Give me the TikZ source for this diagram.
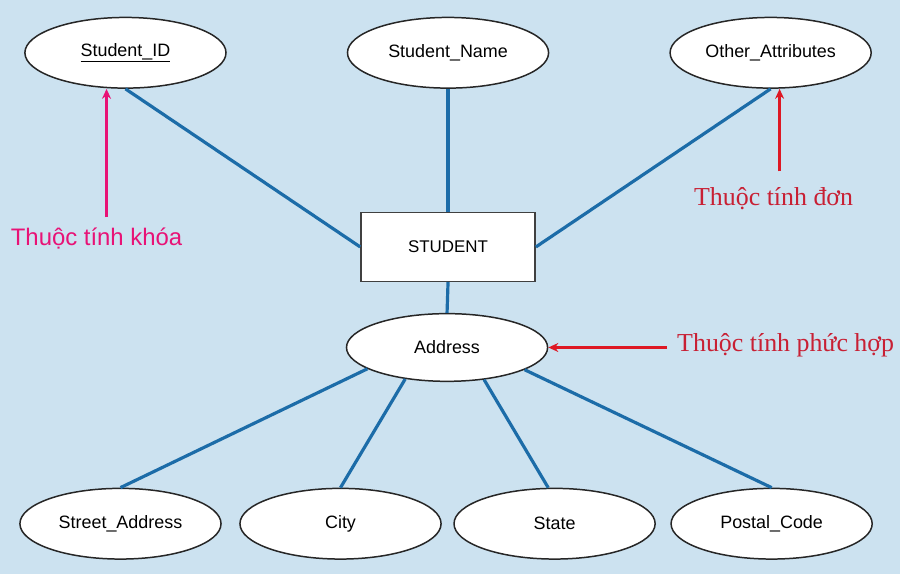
\documentclass[tikz,border=0pt]{standalone}
\usepackage{fontspec}
\setmainfont{Liberation Sans}
\newfontfamily\notefont{Liberation Serif}
\usepackage{tikz}
\usetikzlibrary{shapes.geometric, arrows.meta, positioning, calc}
\definecolor{SkyBack}{RGB}{204,226,240}
\definecolor{LinkBlue}{RGB}{28,108,168}
\definecolor{KeyPink}{RGB}{232,18,118}
\definecolor{NoteRed}{RGB}{222,24,36}
\definecolor{NoteText}{RGB}{200,32,52}
\tikzset{
  attrbox/.style={ellipse,draw=black!85,fill=white,line width=1.5pt,
    minimum width=202pt,minimum height=71pt,inner sep=0pt,
    font=\fontsize{18}{20}\selectfont},
  entbox/.style={rectangle,draw=black!75,fill=white,line width=1.5pt,
    minimum width=175pt,minimum height=69pt,font=\fontsize{17}{20}\selectfont},
  link/.style={line width=3.2pt,color=LinkBlue},
  keyarrow/.style={-{Stealth[length=10pt,width=9pt]},line width=2.8pt,color=KeyPink},
  notearrow/.style={-{Stealth[length=10pt,width=9pt]},line width=2.8pt,color=NoteRed},
  keynote/.style={text=KeyPink,inner sep=2pt,font=\fontsize{24}{26}\selectfont},
  rednote/.style={text=NoteText,inner sep=2pt,font=\notefont\fontsize{26}{28}\selectfont}
}

\begin{document}
\begin{tikzpicture}[x=1pt,y=-1pt]
  \fill[SkyBack] (0,0) rectangle (904,576);
  % entity and its attributes
  \node[entbox] (stu) at (450,248) {STUDENT};
  \node[attrbox] (sid) at (126,53) {\underline{Student\_ID}};
  \node[attrbox] (sname) at (450,53) {Student\_Name};
  \node[attrbox] (oattr) at (774,53) {Other\_Attributes};
  \node[attrbox,minimum height=68pt] (addr) at (449,349) {Address};
  \node[attrbox] (street) at (121,526) {Street\_Address};
  \node[attrbox] (city) at (342,526) {City};
  \node[attrbox] (state) at (557,526) {State};
  \node[attrbox] (postal) at (775,526) {Postal\_Code};
  \draw[link] (sid.south) -- (stu.west);
  \draw[link] (sname.south) -- (stu.north);
  \draw[link] (oattr.south) -- (stu.east);
  \draw[link] (stu.south) -- (addr.north);
  \foreach \a/\b in {195/street.north,217/city.north,319/state.100,344/postal.north}
    \draw[link] (addr.\a) -- (\b);
  % notes
  \node[keynote] (knote) at (97,240) {Thuộc tính khóa};
  \node[rednote] (snote) at (777,200) {Thuộc tính đơn};
  \node[rednote,anchor=base west,inner xsep=10pt] (cnote) at (670,353) {Thuộc tính phức hợp};
  \coordinate (kfoot) at (107,218);
  \coordinate (sfoot) at (783,172);
  \draw[keyarrow] (kfoot) -- (kfoot |- sid.south);
  \draw[notearrow] (sfoot) -- (sfoot |- oattr.south);
  \draw[notearrow] (cnote.west |- addr.east) -- (addr.east);
\end{tikzpicture}
\end{document}
